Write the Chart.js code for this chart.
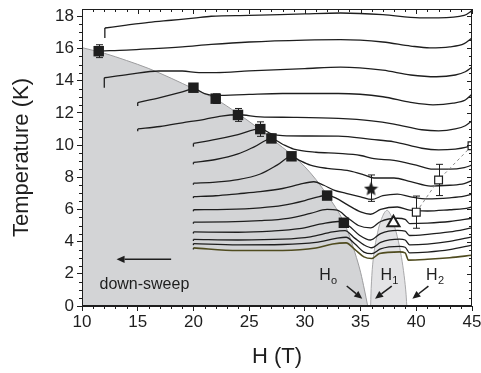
<!DOCTYPE html>
<html>
<head>
<meta charset="utf-8">
<script src="https://cdn.jsdelivr.net/npm/chart.js@4.4.1/dist/chart.umd.min.js"></script>
<style>
  html, body { margin: 0; padding: 0; background: #fff; }
  #wrap { width: 481px; height: 373px; }
</style>
</head>
<body>
<div id="wrap"><canvas id="chart" width="481" height="373"></canvas></div>
<script>
// Temperature traces, down-sweep, [H (T), T (K)]
const curveA = [[12.05,17.27],[14,17.45],[16,17.62],[18,17.75],[20,17.88],[21.6,18.0],[25,18.05],[30,18.15],[33.2,18.2],[37,18.1],[40.3,17.9],[42,17.9],[44.3,18.05],[45,18.35]];
const curveB = [[11.7,15.85],[14,15.9],[16,15.97],[19,16.1],[21.6,16.25],[25,16.4],[30,16.52],[33.2,16.55],[37,16.4],[39.5,16.15],[41.2,16.04],[43,16.1],[44.3,16.3],[45,16.65]];
const curveC = [[12,14.18],[14.2,14.39],[16.9,14.6],[19,14.6],[20.5,14.5],[22,14.5],[25,14.6],[30,14.75],[33.2,14.84],[37,14.65],[39.5,14.35],[41.8,14.24],[43.5,14.35],[44.4,14.55],[45,14.84]];
const curveD = [[15,12.64],[17,12.95],[19,13.3],[20,13.5],[21,13.2],[22,13.08],[25,13.15],[28,13.2],[33,13.2],[37,13.0],[39.5,12.65],[41.5,12.5],[43.3,12.6],[44.4,12.8],[45,13.15]];
const curveE = [[15,11.0],[17,11.15],[19,11.38],[21,11.6],[22.5,11.8],[24,11.88],[26,11.75],[29,11.72],[33,11.65],[36,11.5],[38,11.3],[40.5,10.95],[42,10.88],[43.5,11.0],[44.4,11.2],[45,11.5]];
const curveF = [[20,10.1],[22,10.35],[24,10.65],[26,11.0],[27,10.7],[28,10.58],[30,10.56],[33,10.55],[36,10.35],[38,10.2],[40.5,9.8],[42,9.7],[43.5,9.75],[44.4,9.85],[45,10.0]];
const curveG = [[20,8.92],[22,9.1],[24,9.45],[25.5,9.9],[27,10.4],[28,10.05],[29,9.75],[31,9.55],[33,9.48],[35,9.35],[36.2,9.15],[38,9.05],[40,8.75],[41.5,8.5],[43,8.5],[44.3,8.6],[45,8.75]];
const curveH = [[20,7.63],[22,7.7],[24,7.85],[26,8.2],[27.5,8.75],[28.8,9.3],[29.5,9.05],[30.5,8.75],[32,8.55],[34,8.4],[35.3,8.15],[36.2,7.95],[38,7.95],[39.5,7.72],[41.3,7.45],[43,7.5],[44.3,7.6],[45,7.8]];
const curveI = [[20,6.8],[22,6.85],[24,6.97],[26,7.1],[28,7.3],[29.5,7.55],[30.8,7.72],[31.7,7.5],[32.6,7.2],[33.7,7.0],[35,6.78],[36,6.62],[37,6.85],[38.3,6.95],[39.5,6.78],[41,6.65],[43,6.72],[44.3,6.82],[45,6.95]];
const curveJ = [[20,5.98],[23,6.0],[26,6.1],[28,6.25],[30,6.55],[31.3,6.8],[32,6.88],[32.8,6.7],[33.8,6.3],[35,5.85],[35.9,5.7],[36.8,6.0],[38.3,6.15],[39.4,5.95],[41,5.9],[43,5.98],[44.3,6.05],[45,6.15]];
const curveK = [[20,5.21],[23,5.22],[26,5.3],[28.5,5.45],[30.5,5.75],[32,6.0],[32.9,5.95],[33.8,5.5],[34.8,5.0],[35.9,4.85],[36.8,5.25],[38.3,5.45],[39.0,5.38],[39.4,5.12],[41,5.15],[43,5.25],[45,5.45]];
const curveL = [[20,4.6],[24,4.58],[27,4.65],[29.5,4.8],[31.5,5.1],[33,5.25],[33.9,5.0],[34.9,4.4],[35.9,4.1],[36.8,4.5],[38.3,4.7],[39.0,4.65],[39.4,4.38],[41,4.45],[43,4.6],[45,4.85]];
const curveM = [[20,4.14],[24,4.1],[28,4.15],[30.5,4.3],[32.5,4.6],[33.6,4.68],[34.5,4.2],[35.3,3.8],[36,3.62],[36.8,3.95],[38.5,4.15],[39.0,4.1],[39.4,3.8],[41,3.85],[43,4.02],[45,4.3]];
const curveN = [[20,3.88],[24,3.8],[28,3.82],[31,3.95],[32.8,4.2],[33.7,4.27],[34.5,3.85],[35.3,3.35],[36,3.25],[36.8,3.55],[38.5,3.7],[39.0,3.65],[39.4,3.3],[41,3.35],[43,3.5],[45,3.78]];
const curveO = [[20,3.61],[24,3.45],[28,3.45],[31,3.6],[32.5,3.85],[33.7,3.92],[34.5,3.5],[35.3,3.05],[36,2.95],[36.7,3.26],[38.5,3.36],[39.0,3.3],[39.3,2.85],[41,2.9],[43,3.0],[45,3.15]];

const curves = [curveA, curveB, curveC, curveD, curveE, curveF, curveG, curveH, curveI, curveJ, curveK, curveL, curveM, curveN, curveO];
// short drop at the start of each sweep (K)
const startDrop = [0.62, 0, 0.62, 0.22, 0.15, 0.2, 0.12, 0.1, 0.1, 0.1, 0.1, 0.1, 0.1, 0.1, 0.1];

// phase boundaries
const phaseEdge = [[10,16.05],[12,15.7],[14,15.25],[16,14.75],[18,14.15],[20,13.5],[22,12.85],[24,11.95],[26,10.95],[27,10.4],[28,9.85],[29,9.3],[30,8.65],[31,7.85],[32,6.9],[33,5.85],[33.5,5.2],[34,4.35],[34.5,3.3],[35,2.1],[35.35,1.0],[35.64,0]];
const domeEdge = [[35.9,0],[35.98,1.5],[36.15,3.0],[36.45,4.3],[36.85,5.35],[37.35,5.94],[37.75,5.6],[37.95,5.17],[38.3,4.3],[38.6,3.3],[38.85,2.2],[39.05,1.0],[39.15,0]];

// markers and error bars (K)
const filledSq = [[11.5,15.83],[20,13.56],[22,12.88],[24,11.87],[26,10.99],[27,10.41],[28.8,9.3],[32,6.86],[33.5,5.17]];
const filledErr = [0.4, 0, 0.3, 0.4, 0.45, 0.25, 0, 0, 0];
const openSq = [[40,5.83],[42,7.83],[45,9.96]];
const openErr = [1.0, 0.97, 0];
const starPt = [[35.94,7.32]];
const starErr = [0.82];
const triPt = [[37.95,5.17]];

// axis ticks
const xTicks = [10, 15, 20, 25, 30, 35, 40, 45];
const yTicks = [0, 2, 4, 6, 8, 10, 12, 14, 16, 18];

const ink = '#1e1e1e';
const family = '"Liberation Sans", Arial, Helvetica, sans-serif';

const xy = arr => arr.map(p => ({ x: p[0], y: p[1] }));

function starImage(size) {
    const c = document.createElement('canvas');
    c.width = c.height = size;
    const g = c.getContext('2d');
    const r = size / 2, ri = r * 0.45;
    g.beginPath();
    for (let i = 0; i < 10; i++) {
        const a = -Math.PI / 2 + i * Math.PI / 5;
        const rr = i % 2 ? ri : r;
        g.lineTo(r + rr * Math.cos(a), r + 1 + rr * Math.sin(a));
    }
    g.closePath();
    g.fillStyle = ink;
    g.fill();
    return c;
}

const datasets = [];

// shaded phases
datasets.push({
    data: xy(phaseEdge), borderColor: '#9c9c9e', borderWidth: 1,
    backgroundColor: '#d3d4d6', fill: 'origin', pointRadius: 0,
    cubicInterpolationMode: 'monotone', order: 10
});
datasets.push({
    data: xy(domeEdge), borderColor: '#a8a8aa', borderWidth: 1,
    backgroundColor: '#e3e3e5', fill: 'origin', pointRadius: 0,
    tension: 0.4, order: 9
});

// temperature traces
curves.forEach((c, i) => {
    const last = i === curves.length - 1;
    datasets.push({
        data: xy(c), borderColor: last ? '#4f4b1f' : ink, borderWidth: last ? 1.6 : 1.3,
        pointRadius: 0, fill: false, cubicInterpolationMode: 'monotone', order: 5
    });
    if (startDrop[i] > 0) {
        datasets.push({
            data: [{ x: c[0][0], y: c[0][1] - startDrop[i] }, { x: c[0][0], y: c[0][1] }],
            borderColor: ink, borderWidth: 1.3, pointRadius: 0, fill: false, tension: 0, order: 5
        });
    }
});

// markers
datasets.push({
    data: xy(openSq), errs: openErr, showLine: true, borderDash: [3, 3], borderColor: '#8a8a8a',
    borderWidth: 1, fill: false, pointStyle: 'rect', pointRadius: 5.5, pointBorderWidth: 1.2,
    pointBorderColor: ink, pointBackgroundColor: '#fff', clip: 0, order: 1
});
datasets.push({
    data: xy(filledSq), errs: filledErr, showLine: false, pointStyle: 'rect', pointRadius: 7.4,
    pointBorderWidth: 0, pointBackgroundColor: ink, clip: 0, order: 0
});
datasets.push({
    data: xy(starPt), errs: starErr, showLine: false, pointStyle: starImage(15), pointRadius: 7, order: 0
});
datasets.push({
    data: xy(triPt), showLine: false, pointStyle: 'triangle', pointRadius: 7, pointBorderWidth: 2,
    pointBorderColor: ink, pointBackgroundColor: '#fff', order: 0
});

function arrow(ctx, x1, y1, x2, y2) {
    const ang = Math.atan2(y2 - y1, x2 - x1), L = 8, w = 3.6;
    const bx = x2 - L * Math.cos(ang), by = y2 - L * Math.sin(ang);
    ctx.beginPath(); ctx.moveTo(x1, y1); ctx.lineTo(bx, by); ctx.stroke();
    ctx.beginPath();
    ctx.moveTo(x2, y2);
    ctx.lineTo(bx - w * Math.sin(ang), by + w * Math.cos(ang));
    ctx.lineTo(bx + w * Math.sin(ang), by - w * Math.cos(ang));
    ctx.closePath(); ctx.fill();
}

// field labels: subscript, label pos [H,T], arrow from/to [H,T]
const fieldNotes = [
    { sub: 'o', at: [31.8, 1.87], from: [33.76, 1.24], to: [35.15, 0.45] },
    { sub: '1', at: [37.3, 1.87], from: [37.8, 1.24], to: [36.3, 0.45] },
    { sub: '2', at: [41.4, 1.87], from: [41.09, 1.24], to: [39.65, 0.45] }
];

const decor = {
    id: 'decor',
    beforeDatasetDraw(chart, args) {
        const ds = chart.data.datasets[args.index];
        if (!ds.errs) return;
        const { x, y } = chart.scales;
        const ctx = chart.ctx;
        ctx.save();
        ctx.strokeStyle = ink;
        ctx.lineWidth = 1;
        ds.data.forEach((p, i) => {
            const e = ds.errs[i];
            if (!e) return;
            const px = Math.round(x.getPixelForValue(p.x)) + 0.5;
            const y1 = y.getPixelForValue(p.y + e), y2 = y.getPixelForValue(p.y - e);
            ctx.beginPath();
            ctx.moveTo(px, y1); ctx.lineTo(px, y2);
            ctx.moveTo(px - 3.5, y1); ctx.lineTo(px + 3.5, y1);
            ctx.moveTo(px - 3.5, y2); ctx.lineTo(px + 3.5, y2);
            ctx.stroke();
        });
        ctx.restore();
    },
    afterDraw(chart) {
        const ctx = chart.ctx, a = chart.chartArea;
        const xs = chart.scales.x, ys = chart.scales.y;
        ctx.save();
        ctx.strokeStyle = ink;
        ctx.fillStyle = ink;
        ctx.lineWidth = 1;

        // frame
        ctx.strokeRect(Math.round(a.left) + 0.5, Math.round(a.top) + 0.5,
            Math.round(a.right - a.left) - 1, Math.round(a.bottom - a.top) - 1);

        // minor ticks (left/bottom outward), all ticks top/right inward
        ctx.beginPath();
        for (let v = 10; v <= 45; v += 1) {
            const px = Math.round(xs.getPixelForValue(v)) + 0.5;
            const major = v % 5 === 0;
            ctx.moveTo(px, a.top); ctx.lineTo(px, a.top + (major ? 5 : 3));
            if (!major) { ctx.moveTo(px, a.bottom); ctx.lineTo(px, a.bottom + 3); }
        }
        for (let v = 0; v <= 18; v += 0.5) {
            const py = Math.round(ys.getPixelForValue(v)) + 0.5;
            const major = v % 2 === 0;
            ctx.moveTo(a.right, py); ctx.lineTo(a.right - (major ? 5 : 3), py);
            if (!major) { ctx.moveTo(a.left, py); ctx.lineTo(a.left - 3, py); }
        }
        ctx.stroke();

        // down-sweep arrow and label
        ctx.lineWidth = 1.5;
        arrow(ctx, xs.getPixelForValue(18), ys.getPixelForValue(2.9), xs.getPixelForValue(13.1), ys.getPixelForValue(2.9));
        ctx.font = '16px ' + family;
        ctx.textAlign = 'center';
        ctx.textBaseline = 'middle';
        ctx.fillText('down-sweep', xs.getPixelForValue(15.6), ys.getPixelForValue(1.36));

        // H labels with arrows
        fieldNotes.forEach(n => {
            const px = xs.getPixelForValue(n.at[0]), py = ys.getPixelForValue(n.at[1]);
            ctx.font = '16px ' + family;
            ctx.textAlign = 'center';
            ctx.fillText('H', px, py);
            ctx.font = '11px ' + family;
            ctx.textAlign = 'left';
            ctx.fillText(n.sub, px + 6, py + 5);
            ctx.lineWidth = 1.5;
            arrow(ctx, xs.getPixelForValue(n.from[0]), ys.getPixelForValue(n.from[1]),
                xs.getPixelForValue(n.to[0]), ys.getPixelForValue(n.to[1]));
        });
        ctx.restore();
    }
};

new Chart(document.getElementById('chart'), {
    type: 'line',
    data: { datasets },
    plugins: [decor],
    options: {
        responsive: false,
        animation: false,
        events: [],
        layout: { padding: { left: 0, top: 7, right: 9, bottom: 0 } },
        plugins: { legend: { display: false }, tooltip: { enabled: false } },
        scales: {
            x: {
                type: 'linear', min: 10, max: 45,
                afterBuildTicks(s) { s.ticks = xTicks.map(v => ({ value: v })); },
                afterFit(s) { s.height = 67; s.paddingLeft = 0; s.paddingRight = 0; },
                ticks: { padding: 1, color: ink, font: { family, size: 17 }, maxRotation: 0, autoSkip: false },
                grid: { drawOnChartArea: false, tickLength: 5, color: ink },
                border: { color: ink, width: 1 },
                title: { display: true, text: 'H (T)', color: ink, font: { family, size: 22 }, padding: { top: 0, bottom: 3 } }
            },
            y: {
                type: 'linear', min: 0, max: 18.45,
                afterBuildTicks(s) { s.ticks = yTicks.map(v => ({ value: v })); },
                afterFit(s) { s.width = 82; s.paddingTop = 0; s.paddingBottom = 0; },
                ticks: { padding: 3, color: ink, font: { family, size: 17 }, autoSkip: false },
                grid: { drawOnChartArea: false, tickLength: 5, color: ink },
                border: { color: ink, width: 1 },
                title: { display: true, text: 'Temperature (K)', color: ink, font: { family, size: 22 }, padding: { top: 9, bottom: 0 } }
            }
        }
    }
});
</script>
</body>
</html>
